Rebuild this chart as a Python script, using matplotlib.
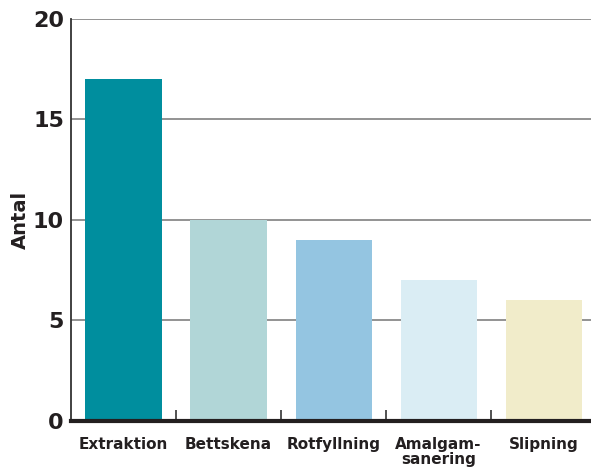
import matplotlib.pyplot as plt
from matplotlib import font_manager

categories = ['Extraktion', 'Bettskena', 'Rotfyllning', 'Amalgam-\nsanering', 'Slipning']
values = [17, 10, 9, 7, 6]
colors = ['#008e9e', '#b1d6d7', '#94c5e1', '#daedf4', '#f1ecca']
yticks = [0, 5, 10, 15, 20]

names = {f.name for f in font_manager.fontManager.ttflist}
fam = 'Liberation Sans Narrow' if 'Liberation Sans Narrow' in names else 'DejaVu Sans'
plt.rcParams['font.family'] = [fam, 'DejaVu Sans']

fig = plt.figure(figsize=(5.91, 4.72), dpi=100)
ax = fig.add_axes([0.120, 0.108, 0.880, 0.852])

x = range(len(categories))
ax.bar(x, values, width=0.725, color=colors, zorder=2)

ax.set_xlim(-0.5, 4.45)
ax.set_ylim(0, 20)
ax.set_yticks(yticks)
ax.set_yticklabels([str(v) for v in yticks], fontsize=16, fontweight='bold', color='#231f20')
for v in yticks[1:]:
    ax.axhline(v, color='#8a8a8a', lw=1.3, zorder=1)

ax.set_xticks([0.5, 1.5, 2.5, 3.5])
ax.set_xticklabels([])
ax.tick_params(axis='x', direction='in', length=8, width=1.2, color='#333333')
ax.tick_params(axis='y', length=0, pad=5)
for i, lab in enumerate(categories):
    ax.text(i, -0.8, lab, ha='center', va='top', fontsize=11, fontweight='bold',
            color='#231f20', linespacing=0.95)

ax.set_ylabel('Antal', fontsize=14, fontweight='bold', color='#231f20')
ax.yaxis.set_label_coords(-0.079, 0.5)

for s in ['top', 'right']:
    ax.spines[s].set_visible(False)
ax.spines['left'].set_color('#333333')
ax.spines['left'].set_linewidth(1.3)
ax.spines['bottom'].set_color('#231f20')
ax.spines['bottom'].set_linewidth(3)
ax.spines['bottom'].set_zorder(3)

fig.savefig('out.png', dpi=100)
